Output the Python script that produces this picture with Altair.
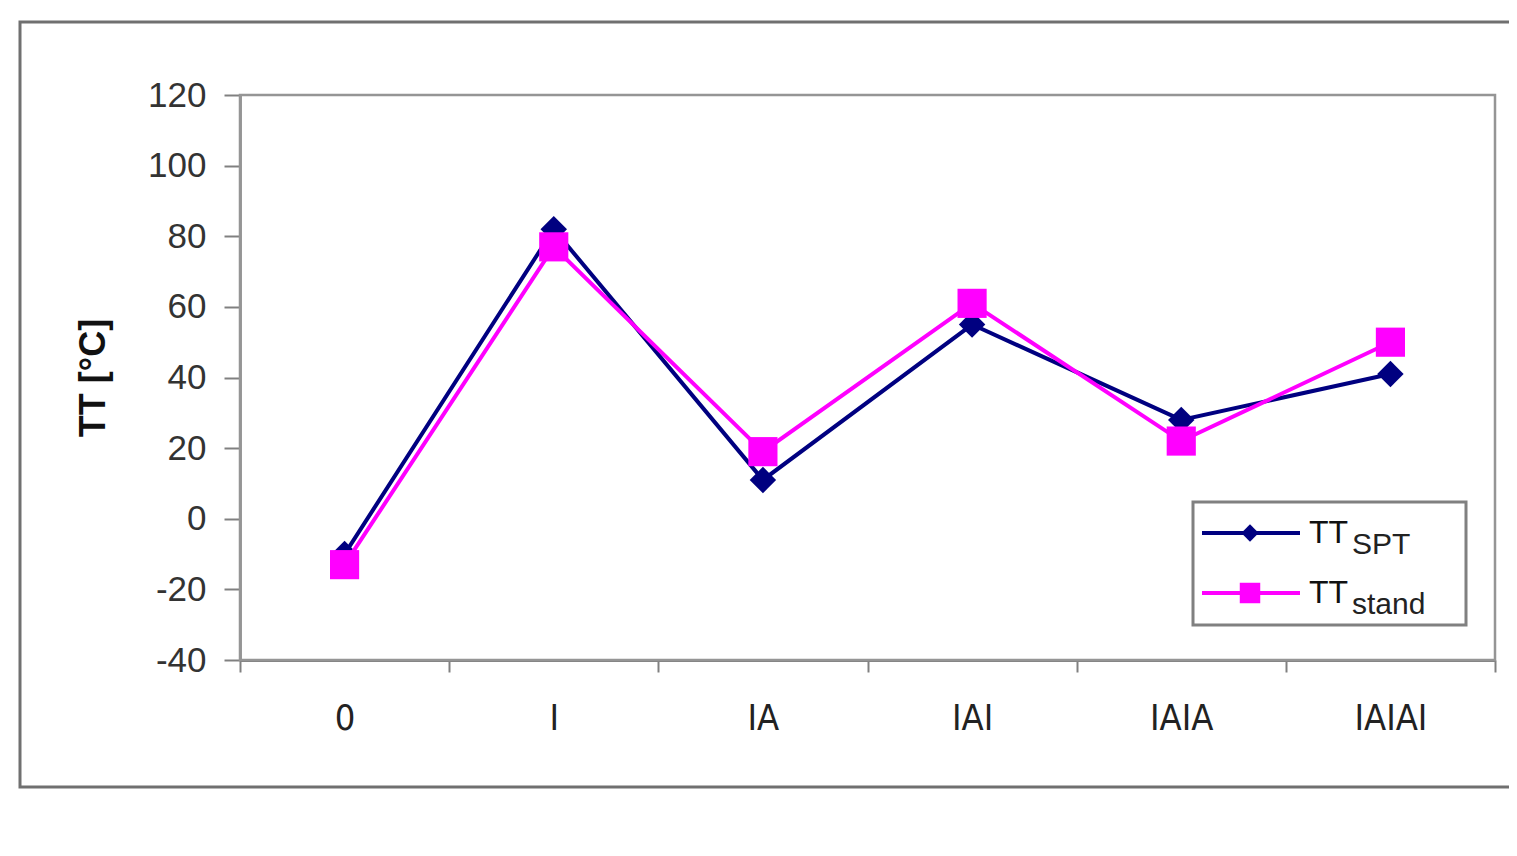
import altair as alt
import pandas as pd

# ---- data ----
categories = ["0", "I", "IA", "IAI", "IAIA", "IAIAI"]
tt_spt = [-10, 82, 11, 55, 28, 41]
tt_stand = [-13, 77, 19, 61, 22, 50]
series_main = ["TT", "TT"]
series_sub = ["SPT", "stand"]
series_colors = ["#000080", "#FF00FF"]
series_shapes = ["diamond", "square"]
y_ticks = [-40, -20, 0, 20, 40, 60, 80, 100, 120]

W, H = 1255, 565

df = pd.DataFrame({
    "cat": categories * 2,
    "val": tt_spt + tt_stand,
    "series": [series_sub[0]] * len(categories) + [series_sub[1]] * len(categories),
})

xenc = alt.X(
    "cat:N", sort=categories,
    scale=alt.Scale(type="band", domain=categories, paddingInner=0, paddingOuter=0),
    axis=alt.Axis(
        title=None, labelAngle=0, tickBand="extent",
        domainColor="#808080", domainWidth=3,
        tickColor="#808080", tickWidth=2, tickSize=12,
        labelFont="'Liberation Sans Narrow', 'DejaVu Sans Condensed', 'Liberation Sans', sans-serif",
        labelFontSize=36, labelColor="#222222", labelPadding=29,
        labelBaseline="top",
    ),
)
yenc = alt.Y(
    "val:Q",
    scale=alt.Scale(domain=[-40, 120], nice=False, zero=False),
    axis=alt.Axis(
        title="TT [°C]", values=y_ticks, grid=False,
        labelExpr="'' + datum.value",
        domainColor="#9a9a9a", domainWidth=3,
        tickColor="#808080", tickWidth=2, tickSize=16,
        labelFont="Liberation Sans", labelFontSize=35, labelColor="#333333",
        labelPadding=18,
        titleFont="Liberation Sans", titleFontSize=36, titleFontWeight="bold",
        titleColor="#111111", titleAngle=270, titleX=-147, titleY=H / 2,
        titleAlign="center", titleBaseline="middle",
    ),
)

base = alt.Chart(df)
layers = []
deco = pd.DataFrame({"d": [0]})

# outer chart-area frame (decoration)
layers.append(alt.Chart(deco).mark_rect(
    fillOpacity=0, stroke="#707070", strokeWidth=3
).encode(x=alt.value(-220), x2=alt.value(1300), y=alt.value(-73), y2=alt.value(692)))

# plot-area border (decoration)
layers.append(alt.Chart(deco).mark_rect(
    fillOpacity=0, stroke="#959595", strokeWidth=2.5
).encode(x=alt.value(0), x2=alt.value(W), y=alt.value(0), y2=alt.value(H)))

for i, name in enumerate(series_sub):
    sub = base.transform_filter(alt.datum.series == name)
    layers.append(sub.mark_line(color=series_colors[i], strokeWidth=4).encode(x=xenc, y=yenc))
    layers.append(sub.mark_point(
        shape=series_shapes[i], filled=True, opacity=1, color=series_colors[i],
        size=700 if series_shapes[i] == "diamond" else 850,
    ).encode(x=xenc, y=yenc))

# custom legend with subscripts
leg_df = pd.DataFrame({"main": series_main, "sub": series_sub})
layers.append(alt.Chart(deco).mark_rect(
    fill="white", stroke="#808080", strokeWidth=3
).encode(x=alt.value(953), x2=alt.value(1226), y=alt.value(407), y2=alt.value(530)))

for i, name in enumerate(series_sub):
    yrow = 438 + i * 60
    row = alt.Chart(leg_df).transform_filter(alt.datum.sub == name)
    layers.append(row.mark_rule(color=series_colors[i], strokeWidth=4).encode(
        x=alt.value(962), x2=alt.value(1060), y=alt.value(yrow)))
    layers.append(row.mark_point(
        shape=series_shapes[i], filled=True, opacity=1, color=series_colors[i],
        size=300 if series_shapes[i] == "diamond" else 420,
    ).encode(x=alt.value(1010), y=alt.value(yrow)))
    layers.append(row.mark_text(
        align="left", baseline="alphabetic", font="Liberation Sans", fontSize=32, color="#111111"
    ).encode(x=alt.value(1069), y=alt.value(yrow + 10), text="main:N"))
    layers.append(row.mark_text(
        align="left", baseline="alphabetic", font="Liberation Sans", fontSize=30, color="#222222"
    ).encode(x=alt.value(1112), y=alt.value(yrow + 21), text="sub:N"))

chart = alt.layer(*layers).properties(
    width=W, height=H,
    padding={"left": 232, "top": 87, "right": 14, "bottom": 170},
    autosize=alt.AutoSizeParams(type="none"),
).configure_view(
    strokeWidth=0
).configure(background="white")

chart.save("out.html", embed_options={"renderer": "svg", "actions": False})
